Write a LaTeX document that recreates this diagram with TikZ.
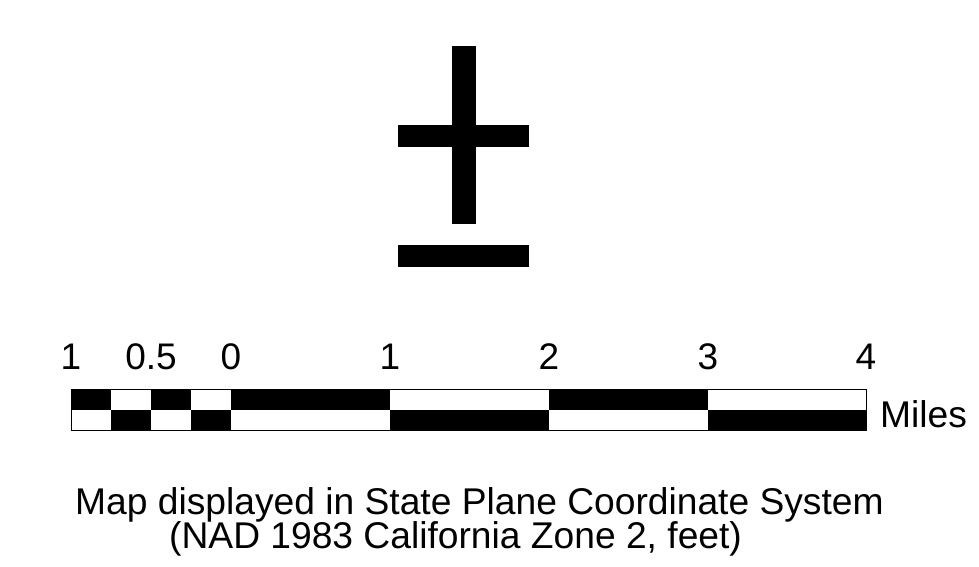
\documentclass[tikz,border=0pt]{standalone}
\usepackage{fontspec}
\setmainfont{Liberation Sans}
\usepackage{tikz}
\usetikzlibrary{positioning}

\tikzset{
  barlabel/.style={anchor=base, inner sep=0pt, font=\fontsize{37}{37}\selectfont},
  notetext/.style={anchor=base west, inner sep=0pt, font=\fontsize{37.2}{37.2}\selectfont}
}

\begin{document}
\begin{tikzpicture}[x=1pt, y=-1pt]

\useasboundingbox (0,0) rectangle (979,566);

% north arrow
\begin{scope}
\fill[black] (452,46) rectangle (476,224);
\fill[black] (398,125) rectangle (529,147);
\fill[black] (398,245) rectangle (529,267);
\end{scope}

% scale bar, quarter miles on the left
\foreach \xa/\xb/\top in {71/111/1, 111/151/0, 151/191/1, 191/231/0, 231/390/1, 390/549/0, 549/708/1, 708/866/0}{
  \ifnum\top=1
    \fill[black] (\xa,389) rectangle (\xb,410);
  \else
    \fill[black] (\xa,410) rectangle (\xb,430);
  \fi
}
\draw[black, line width=0.8pt] (71,389) rectangle (866,430);

\node[barlabel] (l1) at (71,369) {1};
\node[barlabel] (lhalf) at (151,369) {0.5};
\node[barlabel] (l0) at (231,369) {0};
\node[barlabel] (r1) at (390,369) {1};
\node[barlabel] (r2) at (549,369) {2};
\node[barlabel] (r3) at (708,369) {3};
\node[barlabel] (r4) at (866,369) {4};
\node[notetext] (miles) at (880,427) {Miles};

\node[notetext] (mapline) at (75,514) {Map displayed in State Plane Coordinate System};
\node[notetext] (nadline) at (169,548) {(NAD 1983 California Zone 2, feet)};

\end{tikzpicture}
\end{document}
